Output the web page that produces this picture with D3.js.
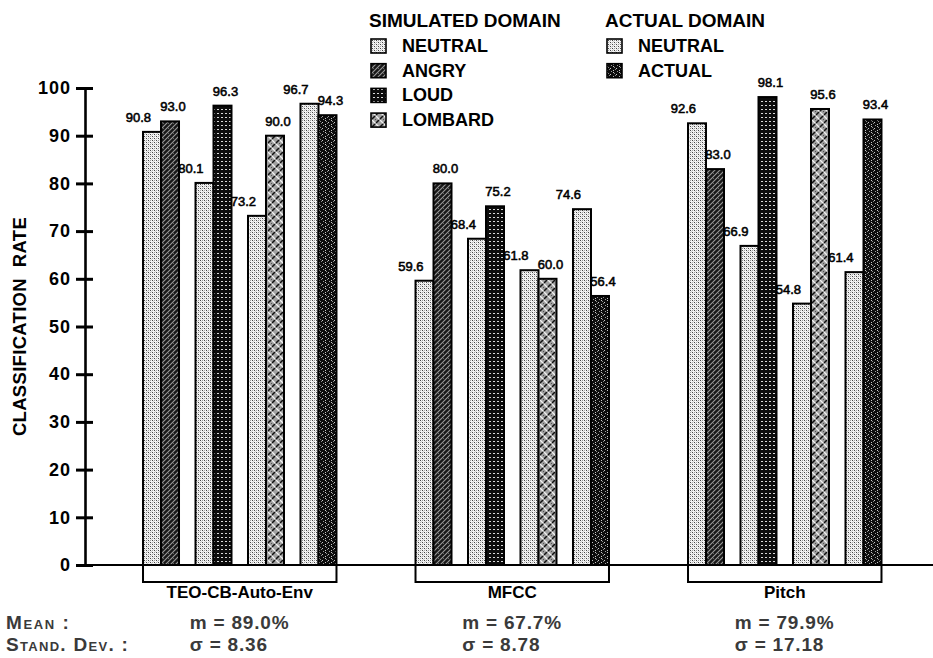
<!DOCTYPE html>
<html><head><meta charset="utf-8">
<script src="https://cdn.jsdelivr.net/npm/d3@7"></script>
<style>
html,body{margin:0;padding:0;background:#fff;}
svg text{font-family:"Liberation Sans",Arial,Helvetica,sans-serif;}
</style></head>
<body><svg id="chart" width="933" height="658"></svg>
<script>
// ---- data ----
const groups = ["TEO-CB-Auto-Env", "MFCC", "Pitch"];
const pairKinds = ["angry", "loud", "lombard", "actual"];
const neutralValues = [
  [90.8, 80.1, 73.2, 96.7],
  [59.6, 68.4, 61.8, 74.6],
  [92.6, 66.9, 54.8, 61.4]
];
const stressValues = [
  [93.0, 96.3, 90.0, 94.3],
  [80.0, 75.2, 60.0, 56.4],
  [83.0, 98.1, 95.6, 93.4]
];
const meanLabels = ["m = 89.0%", "m = 67.7%", "m = 79.9%"];
const sdLabels = ["\u03C3 = 8.36", "\u03C3 = 8.78", "\u03C3 = 17.18"];
const yTicks = [0, 10, 20, 30, 40, 50, 60, 70, 80, 90, 100];
const simulatedLegend = ["NEUTRAL", "ANGRY", "LOUD", "LOMBARD"];
const simulatedKinds = ["neutral", "angry", "loud", "lombard"];
const actualLegend = ["NEUTRAL", "ACTUAL"];
const actualKinds = ["neutral", "actual"];

// ---- setup ----
const svg = d3.select("#chart");
const defs = svg.append("defs");

function pat(id, w, h) {
  return defs.append("pattern").attr("id", id).attr("patternUnits", "userSpaceOnUse")
    .attr("width", w).attr("height", h);
}
function px(p, list) {
  list.forEach(d => p.append("rect").attr("x", d[0]).attr("y", d[1])
    .attr("width", d[3] || 1).attr("height", d[4] || 1).attr("fill", d[2]));
}
// neutral stipple
{
  const p = pat("p-neutral", 4, 4);
  p.append("rect").attr("width", 4).attr("height", 4).attr("fill", "#f4f4f4");
  px(p, [[0,0,"#444"],[2,2,"#444"],[2,0,"#9a9a9a"],[0,2,"#a8a8a8"],[1,1,"#d0d0d0"],[3,3,"#d0d0d0"]]);
}
// angry diagonal hatching
{
  const p = pat("p-angry", 5, 5);
  p.append("rect").attr("width", 5).attr("height", 5).attr("fill", "#181818");
  p.append("path").attr("d", "M0,5 L5,0 M-1,1 L1,-1 M4,6 L6,4").attr("stroke", "#9a9a9a").attr("stroke-width", 1.1);
  px(p, [[3,3,"#666"]]);
}
// loud: black with light dot grid
{
  const p = pat("p-loud", 4, 4);
  p.append("rect").attr("width", 4).attr("height", 4).attr("fill", "#0c0c0c");
  px(p, [[1,1,"#d8d8d8",2,1]]);
}
// lombard: grey herringbone weave
{
  const p = pat("p-lombard", 8, 8);
  p.append("rect").attr("width", 8).attr("height", 8).attr("fill", "#a0a0a0");
  p.append("path").attr("d", "M0,3 L3,0 M4,7 L7,4 M7,9 L9,7").attr("stroke", "#111").attr("stroke-width", 1.5);
  p.append("path").attr("d", "M4,0 L7,3 M0,4 L3,7").attr("stroke", "#f2f2f2").attr("stroke-width", 1.3);
}
// actual: black with faint zigzag specks
{
  const p = pat("p-actual", 6, 6);
  p.append("rect").attr("width", 6).attr("height", 6).attr("fill", "#0c0c0c");
  px(p, [[1,0,"#c8c8c8"],[2,1,"#888"],[4,2,"#c8c8c8"],[3,3,"#888"],[1,4,"#c8c8c8"],[5,5,"#999"]]);
}
const fillOf = k => `url(#p-${k})`;

// ---- scales ----
const y = d3.scaleLinear().domain([0, 100]).range([565, 88]);
const xGroup = d3.scaleBand().domain(groups).range([103.5, 921]).paddingInner(0.29).paddingOuter(0.145);
const xPair = d3.scaleBand().domain(pairKinds).range([0, xGroup.bandwidth()]).paddingInner(0.3143).paddingOuter(0);
const xBar = d3.scaleBand().domain(["n", "s"]).range([0, xPair.bandwidth()]).padding(0);

// ---- build bar records ----
const bars = [];
groups.forEach((g, gi) => {
  pairKinds.forEach((k, pi) => {
    const x0 = xGroup(g) + xPair(k);
    bars.push({ g, k, role: "n", v: neutralValues[gi][pi], x: x0 + xBar("n"), kind: "neutral" });
    bars.push({ g, k, role: "s", v: stressValues[gi][pi], x: x0 + xBar("s"), kind: k });
  });
});

// ---- bars ----
svg.append("g").selectAll("rect").data(bars).join("rect")
  .attr("x", d => d.x).attr("y", d => y(d.v))
  .attr("width", xBar.bandwidth()).attr("height", d => y(0) - y(d.v))
  .attr("fill", d => fillOf(d.kind))
  .attr("stroke", "#000").attr("stroke-width", 2);

// ---- value labels ----
svg.append("g").selectAll("text").data(bars).join("text")
  .attr("x", d => d.x + xBar.bandwidth() / 2 + (d.role === "n" ? -1 : 3))
  .attr("y", d => y(d.v) - 10)
  .attr("text-anchor", d => d.role === "n" ? "end" : "middle")
  .attr("font-size", 13).attr("fill", "#000")
  .attr("stroke", "#000").attr("stroke-width", 0.55)
  .text(d => d.v.toFixed(1));

// ---- y axis ----
const axisX = 85;
const yAxis = svg.append("g").attr("transform", `translate(${axisX},0)`)
  .call(d3.axisLeft(y).tickValues(yTicks).tickSizeInner(9).tickSizeOuter(0).tickPadding(5).tickFormat(d3.format("d")));
yAxis.select(".domain").attr("stroke", "#000").attr("stroke-width", 2.6);
yAxis.selectAll(".tick line").attr("x1", 8).attr("x2", -9).attr("stroke", "#000").attr("stroke-width", 3);
yAxis.selectAll(".tick text").attr("x", -14).attr("font-size", 18).attr("font-weight", "bold")
  .attr("letter-spacing", 1).attr("fill", "#000")
  .attr("font-family", "'Liberation Sans',Arial,sans-serif");

// baseline
svg.append("line").attr("x1", axisX).attr("x2", 933).attr("y1", y(0)).attr("y2", y(0))
  .attr("stroke", "#000").attr("stroke-width", 2.2);

// y title
svg.append("text").attr("transform", `translate(26,${(y(0) + y(100)) / 2}) rotate(-90)`)
  .attr("text-anchor", "middle").attr("font-size", 18.5).attr("font-weight", "bold")
  .attr("letter-spacing", 0.3).style("white-space", "pre")
  .text("CLASSIFICATION  RATE");

// ---- group brackets and labels ----
const gb = svg.append("g");
groups.forEach((g, gi) => {
  const x0 = xGroup(g), x1 = x0 + xGroup.bandwidth(), cx = (x0 + x1) / 2;
  gb.append("path").attr("d", `M${x0},${y(0)} V582 H${x1} V${y(0)}`)
    .attr("fill", "none").attr("stroke", "#000").attr("stroke-width", 2);
  gb.append("text").attr("x", cx).attr("y", 598).attr("text-anchor", "middle")
    .attr("font-size", 17).attr("font-weight", "bold").text(g);
  gb.append("text").attr("x", cx - 50).attr("y", 629).attr("font-size", 19).attr("font-weight", "bold")
    .attr("fill", "#3a3a3a").attr("letter-spacing", 0.8).text(meanLabels[gi]);
  gb.append("text").attr("x", cx - 50).attr("y", 651).attr("font-size", 19).attr("font-weight", "bold")
    .attr("fill", "#3a3a3a").attr("letter-spacing", 0.8).text(sdLabels[gi]);
});
svg.append("text").attr("x", 6).attr("y", 629).attr("font-size", 19).attr("font-weight", "bold")
  .attr("fill", "#3a3a3a").attr("letter-spacing", 1.6).style("font-variant", "small-caps").text("Mean :");
svg.append("text").attr("x", 6).attr("y", 651).attr("font-size", 19).attr("font-weight", "bold")
  .attr("fill", "#3a3a3a").attr("letter-spacing", 1.3).style("font-variant", "small-caps").text("Stand. Dev. :");

// ---- legend ----
function legend(x, title, labels, kinds) {
  const lg = svg.append("g");
  lg.append("text").attr("x", x).attr("y", 27).attr("font-size", 19).attr("font-weight", "bold").text(title);
  labels.forEach((t, i) => {
    const by = 52 + i * 24.7;
    lg.append("rect").attr("x", x + 2).attr("y", by - 13).attr("width", 15).attr("height", 14)
      .attr("fill", fillOf(kinds[i])).attr("stroke", "#000").attr("stroke-width", 1.6);
    lg.append("text").attr("x", x + 33).attr("y", by).attr("font-size", 18).attr("font-weight", "bold").text(t);
  });
}
legend(369, "SIMULATED DOMAIN", simulatedLegend, simulatedKinds);
legend(605, "ACTUAL DOMAIN", actualLegend, actualKinds);
</script>
</body></html>
